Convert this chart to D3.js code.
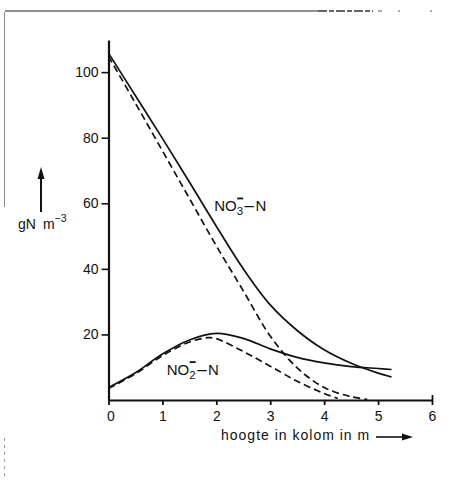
<!DOCTYPE html>
<html>
<head>
<meta charset="utf-8">
<script src="https://cdn.jsdelivr.net/npm/d3@7"></script>
<style>
  body { margin: 0; background: #fff; }
  svg { display: block; }
  text { font-family: "Liberation Sans", Arial, sans-serif; fill: #111; }
</style>
</head>
<body>
<svg id="chart" width="458" height="488"></svg>
<script>
// hoogte in kolom (m) and concentrations (gN m-3)
const no3SolidX = [0, 0.5, 1, 1.5, 2, 2.5, 3, 3.5, 4, 4.5, 5, 5.25];
const no3SolidY = [105.8, 92.8, 79.8, 66.5, 53, 40, 29, 21.2, 15.3, 11.2, 8.2, 7];

const no3DashX = [0, 0.5, 1, 1.5, 2, 2.5, 3, 3.5, 4, 4.5, 4.8];
const no3DashY = [104.8, 90.5, 76, 61.5, 47, 33.3, 19.5, 9.8, 3.8, 1, 0.2];

const no2SolidX = [0, 0.5, 1, 1.5, 2, 2.5, 3, 3.5, 4, 4.5, 5, 5.25];
const no2SolidY = [3.8, 8.3, 14, 18.3, 20.3, 18.8, 15.6, 13, 11.3, 10.2, 9.6, 9.3];

const no2DashX = [0, 0.5, 1, 1.5, 1.85, 2, 2.5, 3, 3.5, 4, 4.25];
const no2DashY = [3.5, 8, 13.5, 17.7, 19, 18.7, 14.8, 10.3, 5.7, 2, 0.5];

const xTicks = [0, 1, 2, 3, 4, 5, 6];
const yTicks = [20, 40, 60, 80, 100];

const svg = d3.select('#chart');

const x = d3.scaleLinear().domain([0, 6]).range([108.5, 432]);
const y = d3.scaleLinear().domain([0, 109.8]).range([400, 40]);

const zip = (xs, ys) => xs.map((v, i) => [v, ys[i]]);

const line = d3.line()
  .x((d) => x(d[0]))
  .y((d) => y(d[1]))
  .curve(d3.curveCatmullRom.alpha(0.5));

// scan edges of the page
const edge = svg.append('g').attr('fill', 'none');
edge.append('path').attr('d', 'M5,11H318').attr('stroke', '#222').attr('stroke-width', 1);
edge.append('path').attr('d', 'M318,11H373').attr('stroke', '#333')
  .attr('stroke-width', 1.3).attr('stroke-dasharray', '9,2,5,2');
edge.append('path').attr('d', 'M378,11H382M398,11H400M430,11H432')
  .attr('stroke', '#555').attr('stroke-width', 1);
edge.append('path').attr('d', 'M4.5,12V207').attr('stroke', '#888').attr('stroke-width', 1);
edge.append('path').attr('d', 'M4.5,438V478').attr('stroke', '#999')
  .attr('stroke-width', 1).attr('stroke-dasharray', '3,4');

// axes
const yAxis = svg.append('g')
  .attr('transform', `translate(${x(0)},0)`)
  .call(d3.axisLeft(y).tickValues(yTicks).tickSize(7).tickSizeOuter(0).tickPadding(3));
yAxis.select('.domain').attr('stroke', '#111').attr('stroke-width', 2.2);
yAxis.selectAll('.tick line').attr('stroke', '#111').attr('stroke-width', 1.6);
yAxis.selectAll('.tick text').style('font-size', '14px').attr('fill', '#111');

const xAxis = svg.append('g')
  .attr('transform', `translate(0,${y(0)})`)
  .call(d3.axisBottom(x).tickValues(xTicks).tickFormat(d3.format('d'))
    .tickSize(5).tickSizeOuter(0).tickPadding(6));
xAxis.select('.domain').attr('stroke', '#111').attr('stroke-width', 2.2);
xAxis.selectAll('.tick line').attr('stroke', '#111').attr('stroke-width', 1.8);
xAxis.selectAll('.tick text').style('font-size', '14px').attr('fill', '#111');
xAxis.selectAll('.tick').filter((d) => d === 0).select('text').attr('dx', 2);
xAxis.selectAll('.tick').filter((d) => d === 6).select('line').attr('y1', -5);

// curves
const curves = [
  { pts: zip(no3SolidX, no3SolidY), dash: null },
  { pts: zip(no3DashX, no3DashY), dash: '7,4' },
  { pts: zip(no2SolidX, no2SolidY), dash: null },
  { pts: zip(no2DashX, no2DashY), dash: '7,4' },
];

svg.append('g')
  .selectAll('path')
  .data(curves)
  .enter()
  .append('path')
  .attr('d', (d) => line(d.pts))
  .attr('fill', 'none')
  .attr('stroke', '#111')
  .attr('stroke-width', 1.7)
  .attr('stroke-dasharray', (d) => d.dash);

// series labels: NO3- -N and NO2- -N
function ionLabel(px, py, sub) {
  const g = svg.append('g');
  const t = g.append('text').attr('x', px).attr('y', py).style('font-size', '15px');
  t.append('tspan').text('NO');
  t.append('tspan').text(sub).attr('dy', 4).style('font-size', '11.5px');
  t.append('tspan').text('\u2013').attr('dy', -4).attr('dx', 1.5).style('font-size', '17px');
  t.append('tspan').text('N').attr('dx', 1.5);
  const subX = px + t.node().getSubStringLength(0, 2);
  g.append('line')
    .attr('x1', subX + 0.5).attr('x2', subX + 6.5)
    .attr('y1', py - 13).attr('y2', py - 13)
    .attr('stroke', '#111').attr('stroke-width', 1.8);
}
ionLabel(x(1.96), y(57.5), '3');
ionLabel(x(1.08), y(7.6), '2');

// y unit with arrow
svg.append('path')
  .attr('d', 'M41,212V176')
  .attr('stroke', '#111').attr('stroke-width', 2);
svg.append('path')
  .attr('d', 'M41,167L37.5,179H44.5Z')
  .attr('fill', '#111');
const yl = svg.append('text').attr('x', 18).attr('y', 229).style('font-size', '14px');
yl.append('tspan').text('gN\u2002m');
yl.append('tspan').text('\u22123').attr('dy', -7).style('font-size', '10.5px');

// x title with arrow
svg.append('text')
  .attr('x', 221).attr('y', 440)
  .style('font-size', '14px')
  .style('letter-spacing', '1px')
  .text('hoogte in kolom in m');
svg.append('path')
  .attr('d', 'M376,437H404')
  .attr('stroke', '#111').attr('stroke-width', 1.6);
svg.append('path')
  .attr('d', 'M413,437L402,433.5V440.5Z')
  .attr('fill', '#111');
</script>
</body>
</html>
